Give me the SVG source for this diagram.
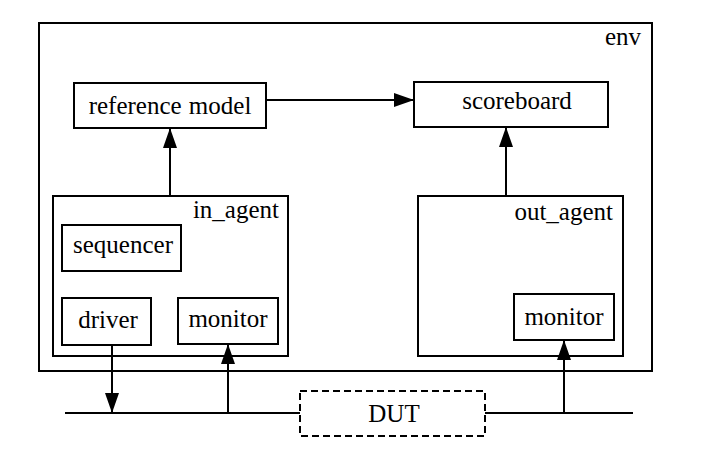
<svg xmlns="http://www.w3.org/2000/svg" width="719" height="462" viewBox="0 0 719 462">
<defs>
<style>
.box{fill:#fff;stroke:#000;stroke-width:2}
.dash{fill:#fff;stroke:#000;stroke-width:2;stroke-dasharray:7 4}
.ln{fill:none;stroke:#000;stroke-width:2}
.t{font-family:'Liberation Serif','Times New Roman',serif;font-size:25px;fill:#000}
</style>
<marker id="ah" markerUnits="userSpaceOnUse" markerWidth="20" markerHeight="14" refX="19" refY="7" orient="auto">
<path d="M0,0 L20,7 L0,14 Z" fill="#000"/>
</marker>
</defs>
<rect width="719" height="462" fill="#fff"/>
<g id="env">
<rect class="box" x="39" y="23" width="613" height="348"/>
<text class="t" x="641" y="45" text-anchor="end">env</text>
</g>
<g id="reference_model">
<rect class="box" x="74" y="83" width="192" height="45"/>
<text class="t" x="170" y="114" text-anchor="middle" word-spacing="1">reference model</text>
</g>
<g id="scoreboard">
<rect class="box" x="414" y="82" width="194" height="45"/>
<text class="t" x="517" y="109" text-anchor="middle">scoreboard</text>
</g>
<g id="in_agent">
<rect class="box" x="53" y="196" width="235" height="160"/>
<text class="t" x="279" y="218" text-anchor="end">in_agent</text>
</g>
<g id="sequencer">
<rect class="box" x="62" y="225" width="119" height="46"/>
<text class="t" x="123" y="253" text-anchor="middle">sequencer</text>
</g>
<g id="driver">
<rect class="box" x="62" y="298" width="89" height="47"/>
<text class="t" x="108" y="328" text-anchor="middle">driver</text>
</g>
<g id="in_monitor">
<rect class="box" x="178" y="298" width="100" height="46"/>
<text class="t" x="228" y="327" text-anchor="middle">monitor</text>
</g>
<g id="out_agent">
<rect class="box" x="418" y="196" width="205" height="160"/>
<text class="t" x="613" y="220" text-anchor="end">out_agent</text>
</g>
<g id="out_monitor">
<rect class="box" x="514" y="294" width="100" height="46"/>
<text class="t" x="564" y="325" text-anchor="middle">monitor</text>
</g>
<g id="DUT">
<rect class="dash" x="300" y="391" width="185" height="45"/>
<text class="t" x="394" y="422" text-anchor="middle">DUT</text>
</g>
<g id="connectors">
<line class="ln" x1="266" y1="100" x2="413" y2="100" marker-end="url(#ah)"/>
<line class="ln" x1="170" y1="196" x2="170" y2="129" marker-end="url(#ah)"/>
<line class="ln" x1="506" y1="196" x2="506" y2="128" marker-end="url(#ah)"/>
<line class="ln" x1="65" y1="413" x2="300" y2="413"/>
<line class="ln" x1="485" y1="413" x2="633" y2="413"/>
<line class="ln" x1="112" y1="345" x2="112" y2="412" marker-end="url(#ah)"/>
<line class="ln" x1="228" y1="413" x2="228" y2="345" marker-end="url(#ah)"/>
<line class="ln" x1="564" y1="413" x2="564" y2="341" marker-end="url(#ah)"/>
</g>
</svg>
